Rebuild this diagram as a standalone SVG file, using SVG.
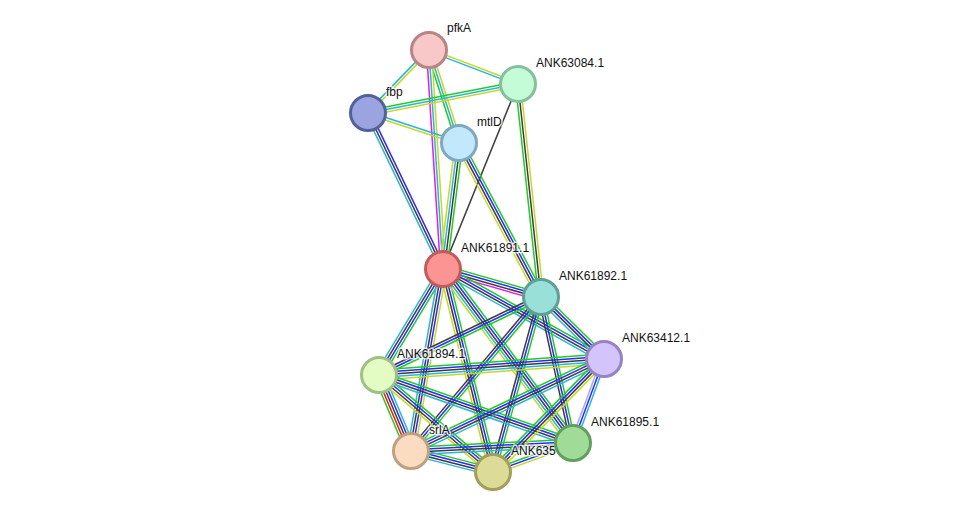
<svg xmlns="http://www.w3.org/2000/svg" xmlns:xlink="http://www.w3.org/1999/xlink" width="976" height="517" viewBox="0 0 976 517">
<style>
.g{stroke:#1fcc1f}.r{stroke:#ff1010}.b{stroke:#2a2aff}.k{stroke:#3c3c3c}.m{stroke:#e020e0}.c{stroke:#2ab4dc}.y{stroke:#c4d82c}.l{stroke:#a8a8f8}
#edges use, #edges line{stroke-width:1.5;fill:none}
.node circle{stroke-width:3}
.node text{font-family:"Liberation Sans",Arial,sans-serif;font-size:12px;fill:#111;stroke:#fff;stroke-opacity:0.75;stroke-width:3;paint-order:stroke;stroke-linejoin:round}
</style>
<defs>
<line id="e1" x1="429" y1="50" x2="518" y2="84"/>
<line id="e2" x1="429" y1="50" x2="368" y2="113"/>
<line id="e3" x1="429" y1="50" x2="459" y2="143"/>
<line id="e4" x1="429" y1="50" x2="443" y2="269"/>
<line id="e5" x1="368" y1="113" x2="518" y2="84"/>
<line id="e6" x1="368" y1="113" x2="459" y2="143"/>
<line id="e7" x1="368" y1="113" x2="443" y2="269"/>
<line id="e9" x1="518" y1="84" x2="541" y2="297"/>
<line id="e10" x1="459" y1="143" x2="443" y2="269"/>
<line id="e11" x1="459" y1="143" x2="541" y2="297"/>
<line id="e12" x1="443" y1="269" x2="541" y2="297"/>
<line id="e13" x1="443" y1="269" x2="604" y2="359"/>
<line id="e14" x1="443" y1="269" x2="379" y2="375"/>
<line id="e15" x1="443" y1="269" x2="411" y2="451"/>
<line id="e16" x1="443" y1="269" x2="493" y2="472"/>
<line id="e17" x1="443" y1="269" x2="573" y2="443"/>
<line id="e18" x1="541" y1="297" x2="379" y2="375"/>
<line id="e19" x1="541" y1="297" x2="411" y2="451"/>
<line id="e20" x1="541" y1="297" x2="493" y2="472"/>
<line id="e21" x1="541" y1="297" x2="573" y2="443"/>
<line id="e22" x1="541" y1="297" x2="604" y2="359"/>
<line id="e23" x1="379" y1="375" x2="604" y2="359"/>
<line id="e24" x1="379" y1="375" x2="411" y2="451"/>
<line id="e25" x1="379" y1="375" x2="493" y2="472"/>
<line id="e26" x1="379" y1="375" x2="573" y2="443"/>
<line id="e27" x1="411" y1="451" x2="604" y2="359"/>
<line id="e28" x1="411" y1="451" x2="493" y2="472"/>
<line id="e29" x1="411" y1="451" x2="573" y2="443"/>
<line id="e30" x1="493" y1="472" x2="604" y2="359"/>
<line id="e31" x1="493" y1="472" x2="573" y2="443"/>
<line id="e32" x1="604" y1="359" x2="573" y2="443"/>
</defs>
<rect width="976" height="517" fill="#fff"/>
<g id="edges">
<use href="#e1" class="c" transform="translate(-0.45,1.16)"/><use href="#e1" class="y" transform="translate(0.45,-1.16)"/>
<use href="#e2" class="c" transform="translate(-0.9,-0.88)"/><use href="#e2" class="y" transform="translate(0.9,0.88)"/>
<use href="#e3" class="g" transform="translate(-2.38,0.75)"/><use href="#e3" class="c"/><use href="#e3" class="y" transform="translate(2.38,-0.75)"/>
<use href="#e4" class="m" transform="translate(-2.5,0.16)"/><use href="#e4" class="c"/><use href="#e4" class="y" transform="translate(2.5,-0.16)"/>
<use href="#e5" class="g" transform="translate(-0.48,-2.45)"/><use href="#e5" class="c"/><use href="#e5" class="y" transform="translate(0.48,2.45)"/>
<use href="#e6" class="c" transform="translate(0.39,-1.19)"/><use href="#e6" class="y" transform="translate(-0.39,1.19)"/>
<use href="#e7" class="c" transform="translate(-2.25,1.09)"/><use href="#e7" class="k"/><use href="#e7" class="b" transform="translate(2.25,-1.09)"/>
<line class="k" x1="518" y1="84" x2="443" y2="269"/>
<use href="#e9" class="g" transform="translate(-2.5,0.26)"/><use href="#e9" class="k"/><use href="#e9" class="y" transform="translate(2.5,-0.26)"/>
<use href="#e10" class="y" transform="translate(-3.73,-0.48)"/><use href="#e10" class="c" transform="translate(-1.24,-0.16)"/><use href="#e10" class="k" transform="translate(1.24,0.16)"/><use href="#e10" class="g" transform="translate(3.73,0.48)"/>
<use href="#e11" class="y" transform="translate(-3.31,1.76)"/><use href="#e11" class="k" transform="translate(-1.1,0.59)"/><use href="#e11" class="b" transform="translate(1.1,-0.59)"/><use href="#e11" class="g" transform="translate(3.31,-1.76)"/>
<use href="#e12" class="m" transform="translate(-1.04,3.61)"/><use href="#e12" class="k" transform="translate(-0.35,1.2)"/><use href="#e12" class="b" transform="translate(0.35,-1.2)"/><use href="#e12" class="g" transform="translate(1.04,-3.61)"/>
<use href="#e13" class="c" transform="translate(-1.83,3.28)"/><use href="#e13" class="k" transform="translate(-0.61,1.09)"/><use href="#e13" class="b" transform="translate(0.61,-1.09)"/><use href="#e13" class="g" transform="translate(1.83,-3.28)"/>
<use href="#e14" class="c" transform="translate(-3.21,-1.94)"/><use href="#e14" class="k" transform="translate(-1.08,-0.65)"/><use href="#e14" class="b" transform="translate(1.08,0.65)"/><use href="#e14" class="g" transform="translate(3.21,1.94)"/>
<use href="#e15" class="c" transform="translate(-3.7,-0.65)"/><use href="#e15" class="k" transform="translate(-1.24,-0.21)"/><use href="#e15" class="b" transform="translate(1.24,0.21)"/><use href="#e15" class="y" transform="translate(3.7,0.65)"/>
<use href="#e16" class="y" transform="translate(-3.64,0.9)"/><use href="#e16" class="k" transform="translate(-1.21,0.3)"/><use href="#e16" class="b" transform="translate(1.21,-0.3)"/><use href="#e16" class="g" transform="translate(3.64,-0.9)"/>
<use href="#e17" class="y" transform="translate(-4,3)"/><use href="#e17" class="c" transform="translate(-2,1.5)"/><use href="#e17" class="k"/><use href="#e17" class="b" transform="translate(2,-1.5)"/><use href="#e17" class="g" transform="translate(4,-3)"/>
<use href="#e18" class="k" transform="translate(-1.09,-2.25)"/><use href="#e18" class="b"/><use href="#e18" class="g" transform="translate(1.09,2.25)"/>
<use href="#e19" class="k" transform="translate(-1.91,-1.61)"/><use href="#e19" class="b"/><use href="#e19" class="g" transform="translate(1.91,1.61)"/>
<use href="#e20" class="k" transform="translate(-2.41,-0.66)"/><use href="#e20" class="b"/><use href="#e20" class="g" transform="translate(2.41,0.66)"/>
<use href="#e21" class="k" transform="translate(-2.44,0.54)"/><use href="#e21" class="b"/><use href="#e21" class="g" transform="translate(2.44,-0.54)"/>
<use href="#e22" class="c" transform="translate(-2.63,2.68)"/><use href="#e22" class="k" transform="translate(-0.88,0.89)"/><use href="#e22" class="b" transform="translate(0.88,-0.89)"/><use href="#e22" class="g" transform="translate(2.63,-2.68)"/>
<use href="#e23" class="g" transform="translate(-0.35,-4.99)"/><use href="#e23" class="b" transform="translate(-0.18,-2.49)"/><use href="#e23" class="k"/><use href="#e23" class="c" transform="translate(0.18,2.49)"/><use href="#e23" class="y" transform="translate(0.35,4.99)"/>
<use href="#e24" class="g" transform="translate(-4.61,1.94)"/><use href="#e24" class="r" transform="translate(-2.3,0.98)"/><use href="#e24" class="k"/><use href="#e24" class="b" transform="translate(2.3,-0.98)"/><use href="#e24" class="c" transform="translate(4.61,-1.94)"/>
<use href="#e25" class="y" transform="translate(-2.43,2.86)"/><use href="#e25" class="k" transform="translate(-0.81,0.95)"/><use href="#e25" class="b" transform="translate(0.81,-0.95)"/><use href="#e25" class="g" transform="translate(2.43,-2.86)"/>
<use href="#e26" class="c" transform="translate(-1.24,3.54)"/><use href="#e26" class="k" transform="translate(-0.41,1.18)"/><use href="#e26" class="b" transform="translate(0.41,-1.18)"/><use href="#e26" class="g" transform="translate(1.24,-3.54)"/>
<use href="#e27" class="c" transform="translate(1.61,3.39)"/><use href="#e27" class="k" transform="translate(0.54,1.13)"/><use href="#e27" class="b" transform="translate(-0.54,-1.13)"/><use href="#e27" class="g" transform="translate(-1.61,-3.39)"/>
<use href="#e28" class="c" transform="translate(-0.93,3.64)"/><use href="#e28" class="k" transform="translate(-0.31,1.21)"/><use href="#e28" class="b" transform="translate(0.31,-1.21)"/><use href="#e28" class="g" transform="translate(0.93,-3.64)"/>
<use href="#e29" class="c" transform="translate(0.19,3.75)"/><use href="#e29" class="k" transform="translate(0.06,1.25)"/><use href="#e29" class="b" transform="translate(-0.06,-1.25)"/><use href="#e29" class="g" transform="translate(-0.19,-3.75)"/>
<use href="#e30" class="y" transform="translate(2.68,2.63)"/><use href="#e30" class="k" transform="translate(0.89,0.88)"/><use href="#e30" class="b" transform="translate(-0.89,-0.88)"/><use href="#e30" class="g" transform="translate(-2.68,-2.63)"/>
<use href="#e31" class="y" transform="translate(0.85,2.35)"/><use href="#e31" class="b"/><use href="#e31" class="g" transform="translate(-0.85,-2.35)"/>
<use href="#e32" class="l" transform="translate(-2.35,-0.86)"/><use href="#e32" class="b"/><use href="#e32" class="c" transform="translate(2.35,0.86)"/>
</g>
<g id="pfkA" class="node"><circle cx="429" cy="50" r="17.5" fill="#f8c8c8" stroke="#b88484"/><text x="447" y="32">pfkA</text></g>
<g id="ANK63084.1" class="node"><circle cx="518" cy="84" r="17.5" fill="#c4fcd8" stroke="#84c09c"/><text x="536" y="67">ANK63084.1</text></g>
<g id="fbp" class="node"><circle cx="368" cy="113" r="17.5" fill="#9aa4e0" stroke="#54609c"/><text x="386" y="96">fbp</text></g>
<g id="mtlD" class="node"><circle cx="459" cy="143" r="17.5" fill="#c2e8fc" stroke="#80a8c0"/><text x="477" y="126">mtlD</text></g>
<g id="ANK61891.1" class="node"><circle cx="443" cy="269" r="17.5" fill="#fc9494" stroke="#c05c5c"/><text x="461" y="252">ANK61891.1</text></g>
<g id="ANK61892.1" class="node"><circle cx="541" cy="297" r="17.5" fill="#98e0d8" stroke="#5ca098"/><text x="559" y="280">ANK61892.1</text></g>
<g id="ANK63412.1" class="node"><circle cx="604" cy="359" r="17.5" fill="#d4c4fc" stroke="#9484c4"/><text x="622" y="342">ANK63412.1</text></g>
<g id="ANK61894.1" class="node"><circle cx="379" cy="375" r="17.5" fill="#e2fcc4" stroke="#a0c084"/><text x="397" y="358">ANK61894.1</text></g>
<g id="srlA" class="node"><circle cx="411" cy="451" r="17.5" fill="#fcdcc0" stroke="#c0a080"/><text x="429" y="434">srlA</text></g>
<g id="ANK635" class="node"><circle cx="493" cy="472" r="17.5" fill="#dcdc98" stroke="#a0a05c"/><text x="511" y="455">ANK635</text></g>
<g id="ANK61895.1" class="node"><circle cx="573" cy="443" r="17.5" fill="#a0dc98" stroke="#60a05c"/><text x="591" y="426">ANK61895.1</text></g>
</svg>
